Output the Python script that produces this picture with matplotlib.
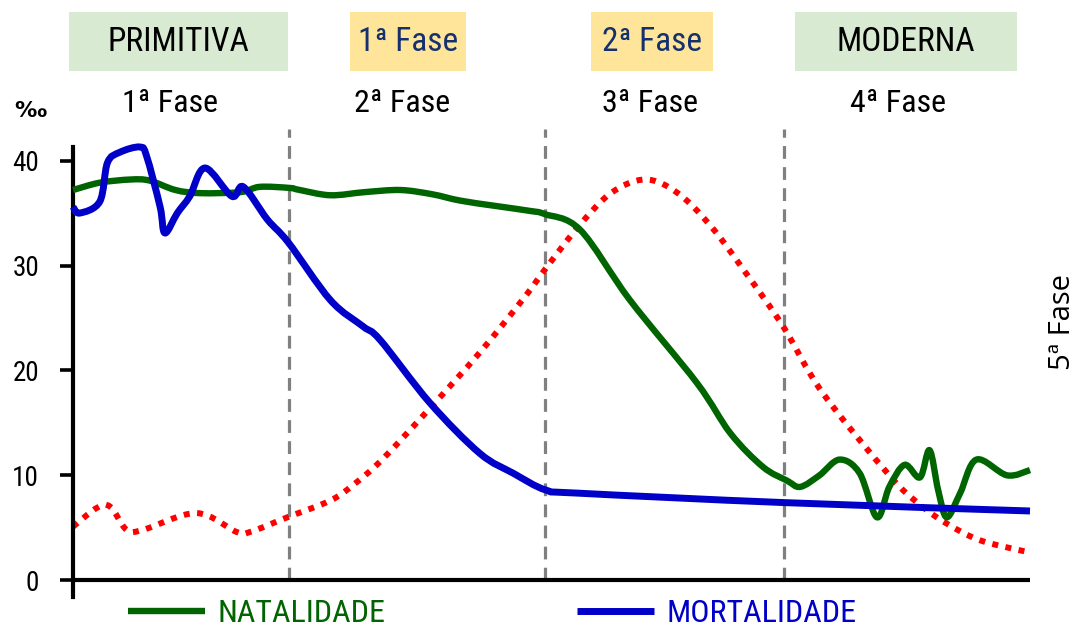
import matplotlib
matplotlib.use("Agg")
import matplotlib.pyplot as plt
from matplotlib.patches import Rectangle, PathPatch
from matplotlib.path import Path
from matplotlib.lines import Line2D
from matplotlib import font_manager

# ---------------- data ----------------
# x: time index 0..100 ; y: per mille (‰)
nat_x = [0, 2.8, 6.0, 8.0, 10.7, 13.3, 17.5, 19.5, 22.6, 23.7, 26.9, 30.5, 34.2, 37.5, 40.4,
         44.0, 47.8, 49.3, 53.0, 58.2, 65.2, 68.7, 72.1, 74.6, 76.0, 78.0, 80.1, 82.2,
         84.0, 85.3, 86.9, 88.5, 89.5, 90.4, 91.3, 92.7, 94.4, 97.6, 100.0]
nat_y = [37.2, 37.9, 38.2, 38.1, 37.2, 36.9, 37.0, 37.5, 37.4, 37.2, 36.7, 37.0, 37.2, 36.8, 36.2,
         35.7, 35.2, 34.9, 33.4, 26.7, 18.8, 14.0, 10.8, 9.5, 8.9, 10.0, 11.5, 10.2,
         6.0, 8.9, 11.0, 9.8, 12.4, 8.6, 6.0, 8.3, 11.5, 10.0, 10.5]

mor_x = [0, 0.7, 2.8, 3.6, 4.9, 7.0, 7.7, 9.1, 9.6, 10.9, 12.2, 13.8, 16.6, 17.8, 20.3,
         22.5, 26.9, 30.3, 32.1, 37.3, 42.5, 46.0, 49.4, 52.8, 74.3, 100.0]
mor_y = [35.6, 35.0, 36.1, 39.8, 40.8, 41.3, 40.4, 35.6, 33.1, 35.0, 36.6, 39.3, 36.6, 37.5, 34.4,
         32.2, 26.7, 24.2, 22.9, 16.9, 12.1, 10.2, 8.6, 8.3, 7.4, 6.6]

cre_x = [0, 2.5, 3.9, 5.6, 7.3, 12.9, 17.1, 18.5, 22.4, 26.9, 29.3, 32.3, 37.4, 42.5,
         47.2, 49.3, 52.8, 56.2, 59.8, 63.2, 66.7, 70.3, 74.2, 78.3, 85.3, 88.5, 91.3, 94.8, 99.7]
cre_y = [5.1, 6.9, 7.0, 4.8, 4.8, 6.4, 4.6, 4.6, 6.0, 7.6, 9.1, 11.5, 16.5, 21.7,
         27.0, 29.6, 33.7, 36.9, 38.2, 36.9, 33.7, 29.3, 24.2, 17.9, 10.0, 7.2, 5.4, 3.8, 2.7]

phase_bounds = [22.6, 49.3, 74.3]
yticks = [0, 10, 20, 30, 40]
legend_labels = ["NATALIDADE", "MORTALIDADE"]
top_labels = ["PRIMITIVA", "1ª Fase", "2ª Fase", "MODERNA"]
phase_labels = ["1ª Fase", "2ª Fase", "3ª Fase", "4ª Fase"]
last_phase = "5ª Fase"

# ---------------- fonts ----------------
avail = {f.name for f in font_manager.fontManager.ttflist}
STRETCH = "normal"
cond = None
for cand in ["Liberation Sans Narrow", "Roboto Condensed", "Open Sans Condensed", "DejaVu Sans Condensed",
             "Noto Sans Condensed"]:
    if cand in avail:
        cond = cand
        break
if cond is None:
    for f in font_manager.fontManager.ttflist:
        if f.name in ("DejaVu Sans", "Noto Sans", "Roboto", "Open Sans") and str(f.stretch) in ("condensed", "semi-condensed", "75", "87", "62"):
            cond = f.name
            STRETCH = "condensed"
            break
if cond is None:
    cond = "DejaVu Sans"
    K = 0.82  # wide fallback font: shrink sizes
else:
    K = 1.0
FAM = [cond, "DejaVu Sans"]
plt.rcParams["font.family"] = FAM
plt.rcParams["font.stretch"] = STRETCH

GREEN = "#006400"
BLUE = "#0000c8"
RED = "#ff0000"
GRAY = "#808080"


def smooth_path(xs, ys):
    """Catmull-Rom spline through the data points, as cubic Bezier segments."""
    pts = list(zip(xs, ys))
    n = len(pts)
    verts = [pts[0]]
    codes = [Path.MOVETO]
    for i in range(n - 1):
        p0 = pts[i - 1] if i > 0 else pts[i]
        p1 = pts[i]
        p2 = pts[i + 1]
        p3 = pts[i + 2] if i + 2 < n else pts[i + 1]
        c1 = (p1[0] + (p2[0] - p0[0]) / 6, p1[1] + (p2[1] - p0[1]) / 6)
        c2 = (p2[0] - (p3[0] - p1[0]) / 6, p2[1] - (p3[1] - p1[1]) / 6)
        verts += [c1, c2, p2]
        codes += [Path.CURVE4] * 3
    return Path(verts, codes)


W, H = 1079, 632
fig = plt.figure(figsize=(W / 100, H / 100), dpi=100)
ax = fig.add_axes([73 / W, (H - 597) / H, (1030 - 73) / W, (597 - 147) / H])
ax.set_xlim(0, 100)
ax.set_ylim(-1.6, 41.3)

for s in ["top", "right", "bottom"]:
    ax.spines[s].set_visible(False)
ax.spines["left"].set_linewidth(3)
ax.spines["left"].set_color("black")
ax.set_xticks([])
ax.set_yticks(yticks)
ax.tick_params(axis="y", length=9.4, width=2.6, pad=15, labelsize=19.5 * K, colors="black")
for lab in ax.get_yticklabels():
    lab.set_family(FAM)
    lab.set_stretch(STRETCH)

# x axis line at 0
ax.plot([0, 100], [0, 0], color="black", lw=3, solid_capstyle="butt", zorder=3, clip_on=False)

# phase separators
for xb in phase_bounds:
    ax.plot([xb, xb], [0, 43], color=GRAY, lw=2.3, ls=(0, (4, 2.6)), zorder=1, clip_on=False)

# series (smooth curves through the read points)
ax.add_patch(PathPatch(smooth_path(cre_x, cre_y), facecolor="none", edgecolor=RED, lw=4.3,
                       ls=(0, (1, 1.25)), capstyle="butt", zorder=2, clip_on=False))
ax.add_patch(PathPatch(smooth_path(nat_x, nat_y), facecolor="none", edgecolor=GREEN, lw=4.6,
                       joinstyle="round", capstyle="butt", zorder=4, clip_on=False))
ax.add_patch(PathPatch(smooth_path(mor_x, mor_y), facecolor="none", edgecolor=BLUE, lw=5,
                       joinstyle="round", capstyle="butt", zorder=5, clip_on=False))

handles = [Line2D([], [], color=GREEN, lw=4.6, solid_capstyle="butt"),
           Line2D([], [], color=BLUE, lw=5, solid_capstyle="butt")]
leg = ax.legend(handles, legend_labels, loc="center left", bbox_to_anchor=(128 / W, (H - 614) / H),
                bbox_transform=fig.transFigure, ncol=2, frameon=False, fontsize=23 * K,
                handlelength=2.4 / K, handletextpad=0.4 / K, columnspacing=6.0 / K, borderpad=0,
                borderaxespad=0, labelcolor="linecolor")
for t in leg.get_texts():
    t.set_family(FAM)
    t.set_stretch(STRETCH)

# top boxes
boxes = [(69, 288, "#d9ead3", "black"), (350, 466, "#ffe599", "#14306e"),
         (591, 713, "#ffe599", "#14306e"), (795, 1017, "#d9ead3", "black")]
for (x0, x1, fc, tc), lab in zip(boxes, top_labels):
    y0, y1 = 12, 71
    fig.add_artist(Rectangle((x0 / W, (H - y1) / H), (x1 - x0) / W, (y1 - y0) / H,
                             transform=fig.transFigure, facecolor=fc, edgecolor="none"))
    fig.text((x0 + x1) / 2 / W, (H - 42) / H, lab, ha="center", va="center", fontsize=24 * K, color=tc,
             family=FAM, stretch=STRETCH)

phase_cx = [170, 402, 650, 898]
for cx, lab in zip(phase_cx, phase_labels):
    fig.text(cx / W, (H - 103) / H, lab, ha="center", va="center", fontsize=23 * K, color="black",
             family=FAM, stretch=STRETCH)

fig.text(30 / W, (H - 111) / H, "‰", ha="center", va="center", fontsize=16, fontweight="bold",
         color="black", family=["DejaVu Sans"])
fig.text(1062 / W, (H - 322) / H, last_phase, ha="center", va="center", rotation=90, fontsize=21,
         color="black", family=["Open Sans", "DejaVu Sans"])

fig.savefig("out.png", dpi=100)
